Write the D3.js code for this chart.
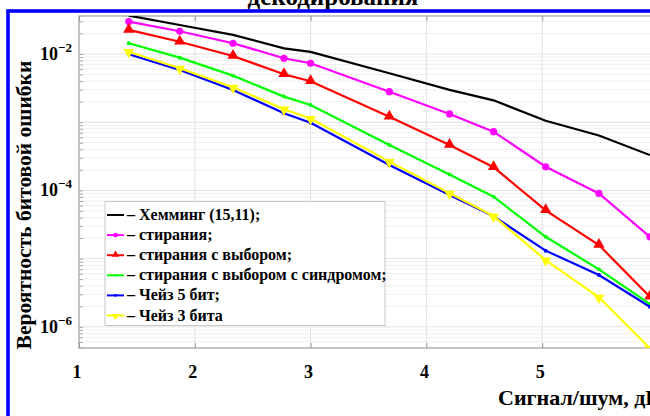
<!DOCTYPE html>
<html>
<head>
<meta charset="utf-8">
<script src="https://cdn.jsdelivr.net/npm/d3@7"></script>
<style>
  body { margin: 0; background: #fff; }
  text { font-family: "Liberation Serif", "Times New Roman", serif; font-weight: bold; fill: #000; }
</style>
</head>
<body>
<svg id="chart" width="650" height="416"></svg>
<script>
// values (SNR in dB, BER)
var snr = [1.43, 1.87, 2.33, 2.77, 3.0, 3.68, 4.2, 4.58, 5.03, 5.49, 5.93];
var hamming   = [0.0365, 0.0266, 0.0190, 0.0121, 0.0107, 0.00521, 0.00297, 0.00209, 0.00105, 0.000638, 0.000330];
var erasure   = [0.0298, 0.0215, 0.01435, 0.00865, 0.00731, 0.00280, 0.00132, 0.000725, 0.000222, 0.0000904, 0.0000209];
var erasSel   = [0.0225, 0.0151, 0.00935, 0.00504, 0.00398, 0.00120, 0.000463, 0.000219, 0.0000510, 0.0000158, 0.00000276];
var erasSynd  = [0.01435, 0.00883, 0.00481, 0.00237, 0.00179, 0.000463, 0.000171, 0.0000809, 0.0000209, 0.00000697, 0.00000216];
var chase5    = [0.0099, 0.00582, 0.00297, 0.00135, 0.000984, 0.000236, 0.0000857, 0.0000417, 0.0000131, 0.00000575, 0.00000197];
var chase3    = [0.0108, 0.00617, 0.00325, 0.00155, 0.00113, 0.000264, 0.0000908, 0.0000421, 0.0000095, 0.00000271, 0.000000484];

var seriesNames = ['– Хемминг (15,11);', '– стирания;', '– стирания с выбором;',
  '– стирания с выбором с синдромом;', '– Чейз 5 бит;', '– Чейз 3 бита'];
var xTicks = [1, 2, 3, 4, 5, 6];
var xTickLabels = [1, 2, 3, 4, 5];
var yTicks = [1e-6, 1e-4, 1e-2];
var yTickExp = ['−6', '−4', '−2'];

var series = [
  { name: seriesNames[0], values: hamming,  color: '#000000', marker: 'none' },
  { name: seriesNames[1], values: erasure,  color: '#ff00ff', marker: 'circle' },
  { name: seriesNames[2], values: erasSel,  color: '#ff0000', marker: 'up' },
  { name: seriesNames[3], values: erasSynd, color: '#00ff00', marker: 'dot' },
  { name: seriesNames[4], values: chase5,   color: '#0000ff', marker: 'dot' },
  { name: seriesNames[5], values: chase3,   color: '#ffff00', marker: 'down' }
];

var svg = d3.select('#chart');
// note: "top" is taken by window.top, so plot edges get their own names
var pLeft = 79, pTop = 16, pRight = 658, pBottom = 348;

var x = d3.scaleLinear().domain([1, 6]).range([pLeft, pRight]);
var y = d3.scaleLog().domain([4.9e-7, 0.036]).range([pBottom, pTop]);

svg.append('defs').append('clipPath').attr('id', 'plotclip')
  .append('rect').attr('x', pLeft).attr('y', pTop).attr('width', pRight - pLeft).attr('height', pBottom - pTop);

// minor grid (log)
var minors = [];
for (var e = -7; e <= -1; e++) {
  for (var k = 2; k <= 9; k++) {
    var v = k * Math.pow(10, e);
    if (v > y.domain()[0] && v < y.domain()[1]) minors.push(v);
  }
}
var grid = svg.append('g');
grid.selectAll('.minor').data(minors).enter().append('line')
  .attr('x1', pLeft).attr('x2', pRight)
  .attr('y1', function(d) { return y(d); }).attr('y2', function(d) { return y(d); })
  .attr('stroke', '#efefef').attr('stroke-width', 1);
grid.selectAll('.majy').data([1e-6, 1e-5, 1e-4, 1e-3, 1e-2]).enter().append('line')
  .attr('x1', pLeft).attr('x2', pRight)
  .attr('y1', function(d) { return y(d); }).attr('y2', function(d) { return y(d); })
  .attr('stroke', '#e2e2e2').attr('stroke-width', 1);
grid.selectAll('.majx').data(xTicks).enter().append('line')
  .attr('x1', function(d) { return x(d); }).attr('x2', function(d) { return x(d); })
  .attr('y1', pTop).attr('y2', pBottom)
  .attr('stroke', '#e2e2e2').attr('stroke-width', 1);

// axes box
svg.append('rect').attr('x', pLeft).attr('y', pTop).attr('width', pRight - pLeft).attr('height', pBottom - pTop)
  .attr('fill', 'none').attr('stroke', '#b5b5b5').attr('stroke-width', 1.5);

// ticks inward
var xAxis = d3.axisBottom(x).tickValues(xTicks).tickSize(-5).tickFormat('');
svg.append('g').attr('transform', 'translate(0,' + pBottom + ')').call(xAxis)
  .call(function(g) { g.select('.domain').remove(); g.selectAll('line').attr('stroke', '#999'); });
var xAxisTop = d3.axisTop(x).tickValues(xTicks).tickSize(-5).tickFormat('');
svg.append('g').attr('transform', 'translate(0,' + pTop + ')').call(xAxisTop)
  .call(function(g) { g.select('.domain').remove(); g.selectAll('line').attr('stroke', '#999'); });
var yAxis = d3.axisLeft(y).tickValues(yTicks.concat(minors, [1e-5, 1e-3])).tickSize(-4).tickFormat('');
svg.append('g').attr('transform', 'translate(' + pLeft + ',0)').call(yAxis)
  .call(function(g) { g.select('.domain').remove(); g.selectAll('line').attr('stroke', '#aaa'); });

// tick labels
svg.selectAll('.xl').data(xTickLabels).enter().append('text')
  .attr('x', function(d) { return x(d) - 2; }).attr('y', 378)
  .attr('text-anchor', 'middle').style('font-size', '18px')
  .text(function(d) { return d; });

var yl = svg.selectAll('.yl').data(yTicks).enter().append('text')
  .attr('x', 72).attr('y', function(d) { return y(d) + 6; })
  .attr('text-anchor', 'end').style('font-size', '18px');
yl.append('tspan').text('10');
yl.append('tspan').attr('dy', -8).style('font-size', '13px').text(function(d, i) { return yTickExp[i]; });

// lines and markers
var line = d3.line().x(function(d) { return x(d[0]); }).y(function(d) { return y(d[1]); });
var plot = svg.append('g').attr('clip-path', 'url(#plotclip)');

function drawMarker(g, type, color, px, py, sc) {
  sc = sc || 1;
  if (type == 'circle') {
    g.append('circle').attr('cx', px).attr('cy', py).attr('r', 3.6 * sc).attr('fill', color);
  } else if (type == 'dot') {
    g.append('circle').attr('cx', px).attr('cy', py).attr('r', 2 * sc).attr('fill', color);
  } else if (type == 'up') {
    g.append('path').attr('d', d3.symbol().type(d3.symbolTriangle).size(55 * sc * sc)())
      .attr('transform', 'translate(' + px + ',' + (py - 0.5) + ')').attr('fill', color);
  } else if (type == 'down') {
    g.append('path').attr('d', d3.symbol().type(d3.symbolTriangle).size(50 * sc * sc)())
      .attr('transform', 'translate(' + px + ',' + (py + 0.5) + ') rotate(180)').attr('fill', color);
  }
}

series.forEach(function(s) {
  var pts = snr.map(function(v, i) { return [v, s.values[i]]; });
  plot.append('path').datum(pts).attr('d', line)
    .attr('fill', 'none').attr('stroke', s.color).attr('stroke-width', 2.2);
  pts.forEach(function(p) { drawMarker(plot, s.marker, s.color, x(p[0]), y(p[1])); });
});

// legend
var lg = svg.append('g');
lg.append('rect').attr('x', 105).attr('y', 201.5).attr('width', 280).attr('height', 124)
  .attr('fill', '#fff').attr('stroke', '#c8c8c8').attr('stroke-width', 1);
series.forEach(function(s, i) {
  var ly = 215 + i * 20.1;
  lg.append('line').attr('x1', 107).attr('x2', 124).attr('y1', ly).attr('y2', ly)
    .attr('stroke', s.color).attr('stroke-width', 2);
  drawMarker(lg, s.marker, s.color, 115.5, ly, 0.65);
  lg.append('text').attr('x', 127).attr('y', ly + 5).style('font-size', '16px').text(s.name);
});

// axis labels and title
svg.append('text').attr('x', 498).attr('y', 405).style('font-size', '22px').text('Сигнал/шум, дБ');
svg.append('text').attr('transform', 'translate(31,205) rotate(-90)')
  .attr('text-anchor', 'middle').style('font-size', '21.5px').text('Вероятность битовой ошибки');
svg.append('text').attr('x', 333).attr('y', 5).attr('text-anchor', 'middle')
  .style('font-size', '25px').text('декодирования');

// blue frame
svg.append('rect').attr('x', 8).attr('y', 11).attr('width', 700).attr('height', 460)
  .attr('fill', 'none').attr('stroke', '#0000ff').attr('stroke-width', 3.6);
</script>
</body>
</html>
